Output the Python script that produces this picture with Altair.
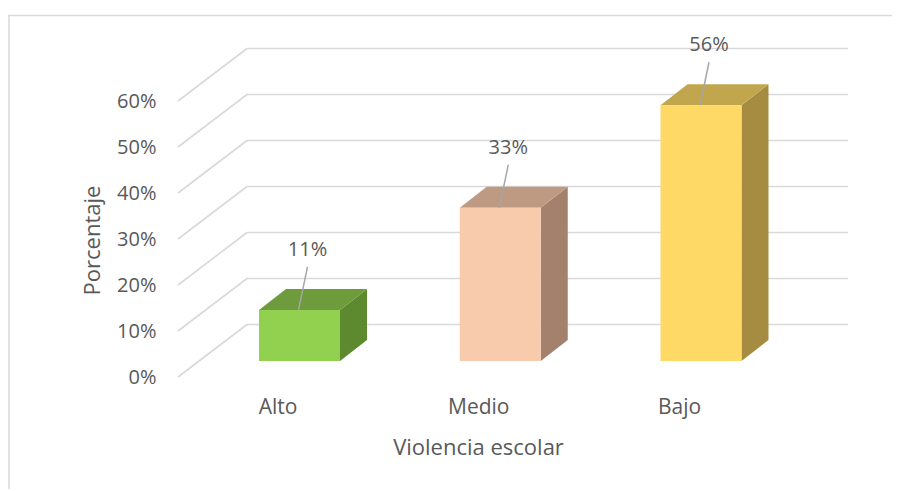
import altair as alt
import pandas as pd

# ---- data ----
categories = ["Alto", "Medio", "Bajo"]
values = [0.111, 0.333, 0.556]
tick_values = [0.0, 0.1, 0.2, 0.3, 0.4, 0.5, 0.6]

front_colors = ["#92D050", "#F8CBAD", "#FFD966"]
top_colors = ["#6E9B3C", "#BF9A82", "#C2A64E"]
side_colors = ["#5D8A2F", "#A3816C", "#A58C40"]

# ---- geometry (pixel-like constants converted to scale units) ----
W, H = 670, 345
PX_X = 200.75           # px per category step
PX_Y = 460.0            # px per 1.0 (100%)
X_DOMAIN = [-121.5 / PX_X, 548.5 / PX_X]
Y_DOMAIN = [0, H / PX_Y]
hw = 40.5 / PX_X        # half width of bar front
bdx, bdy = 27 / PX_X, 21 / PX_Y   # bar depth offset
wdx, wdy = 69 / PX_X, 52.5 / PX_Y  # wall depth offset
b0 = 16 / PX_Y          # bar floor (front)
xL, xR = X_DOMAIN

FONT = "Open Sans"
TXT = "#595959"

bars = pd.DataFrame({"cat": categories, "val": values, "i": range(len(categories))})
bars["x0"] = bars.i - hw
bars["x1"] = bars.i + hw
bars["y0"] = b0
bars["y1"] = b0 + bars.val
bars["lx0"] = bars.i - 1 / PX_X
bars["ly0"] = bars.y1
bars["lx1"] = bars.i + 8 / PX_X
bars["ly1"] = bars.y1 + 43 / PX_Y
bars["tx"] = bars.i + 8 / PX_X
bars["ty"] = bars.y1 + 60 / PX_Y
bars["cx"] = bars.i - 21.5 / PX_X
bars["cy"] = -31 / PX_Y

side_rows, top_rows = [], []
for i, (c, v) in enumerate(zip(categories, values)):
    for k in (0, 1):
        side_rows.append({"scat": c, "x": i + hw + k * bdx,
                          "ylo": b0 + k * bdy, "yhi": b0 + v + k * bdy})
        top_rows.append({"tcat": c, "y": b0 + v + k * bdy,
                         "xa": i - hw + k * bdx, "xb": i + hw + k * bdx})
side = pd.DataFrame(side_rows)
top = pd.DataFrame(top_rows)

grid = pd.DataFrame({"t": tick_values})
grid["xa"] = xL
grid["xb"] = xL + wdx
grid["xc"] = xR
grid["yb"] = grid.t + wdy

xs = alt.Scale(domain=X_DOMAIN, nice=False, zero=False)
ys = alt.Scale(domain=Y_DOMAIN, nice=False, zero=False)

base_x_axis = alt.Axis(labels=False, ticks=False, domain=False, grid=False,
                       title="Violencia escolar", titleFont=FONT, titleFontSize=22,
                       titleFontWeight="normal", titleColor=TXT,
                       titleX=300, titleY=70, titleBaseline="middle", titleAlign="center")
base_y_axis = alt.Axis(values=tick_values, format=".0%", ticks=False, domain=False, grid=False,
                       labelFont=FONT, labelFontSize=20, labelColor=TXT, labelPadding=22,
                       title="Porcentaje", titleFont=FONT, titleFontSize=22,
                       titleFontWeight="normal", titleColor=TXT,
                       titleX=-86, titleY=208, titleAngle=-90,
                       titleBaseline="middle", titleAlign="center")

diag = alt.Chart(grid).mark_rule(color="#D9D9D9", strokeWidth=1.6).encode(
    x=alt.X("xa:Q", scale=xs, axis=base_x_axis),
    x2="xb:Q",
    y=alt.Y("t:Q", scale=ys, axis=base_y_axis),
    y2="yb:Q",
)
horiz = alt.Chart(grid).mark_rule(color="#D9D9D9", strokeWidth=1.6).encode(
    x=alt.X("xb:Q", scale=xs), x2="xc:Q", y=alt.Y("yb:Q", scale=ys)
)

side_l = alt.Chart(side).mark_area().encode(
    x=alt.X("x:Q", scale=xs), y=alt.Y("yhi:Q", scale=ys), y2="ylo:Q",
    fill=alt.Fill("scat:N", scale=alt.Scale(domain=categories, range=side_colors), legend=None),
    detail="scat:N"
)
top_l = alt.Chart(top).mark_area(orient="horizontal").encode(
    y=alt.Y("y:Q", scale=ys), x=alt.X("xa:Q", scale=xs), x2="xb:Q",
    fill=alt.Fill("tcat:N", scale=alt.Scale(domain=categories, range=top_colors), legend=None),
    detail="tcat:N"
)
front = alt.Chart(bars).mark_rect().encode(
    x=alt.X("x0:Q", scale=xs), x2="x1:Q", y=alt.Y("y0:Q", scale=ys), y2="y1:Q",
    fill=alt.Fill("cat:N", scale=alt.Scale(domain=categories, range=front_colors), legend=None)
)
leader = alt.Chart(bars).mark_rule(color="#A6A6A6", strokeWidth=1.5).encode(
    x=alt.X("lx0:Q", scale=xs), x2="lx1:Q", y=alt.Y("ly0:Q", scale=ys), y2="ly1:Q"
)
labels = alt.Chart(bars).mark_text(font=FONT, fontSize=20, color=TXT, baseline="middle").encode(
    x=alt.X("tx:Q", scale=xs), y=alt.Y("ty:Q", scale=ys), text=alt.Text("val:Q", format=".0%")
)
cat_text = alt.Chart(bars).mark_text(font=FONT, fontSize=21, color=TXT, baseline="middle").encode(
    x=alt.X("cx:Q", scale=xs), y=alt.Y("cy:Q", scale=ys), text="cat:N"
)

frame = pd.DataFrame({"k": [0]})
border_top = alt.Chart(frame).mark_rule(color="#D9D9D9", strokeWidth=1.5).encode(
    x=alt.value(-170), x2=alt.value(714), y=alt.value(-16.5)
)
border_left = alt.Chart(frame).mark_rule(color="#D9D9D9", strokeWidth=1.5).encode(
    x=alt.value(-169), y=alt.value(-16.5), y2=alt.value(460)
)

chart = alt.layer(
    diag, horiz, border_top, border_left, side_l, top_l, front, leader, labels, cat_text
).resolve_scale(fill="independent").properties(
    width=W, height=H,
    autosize=alt.AutoSizeParams(type="none"),
    padding={"left": 170, "top": 24, "right": 44, "bottom": 112},
).configure_view(strokeWidth=0)

chart.save("out.html", embed_options={"renderer": "svg", "actions": False})
